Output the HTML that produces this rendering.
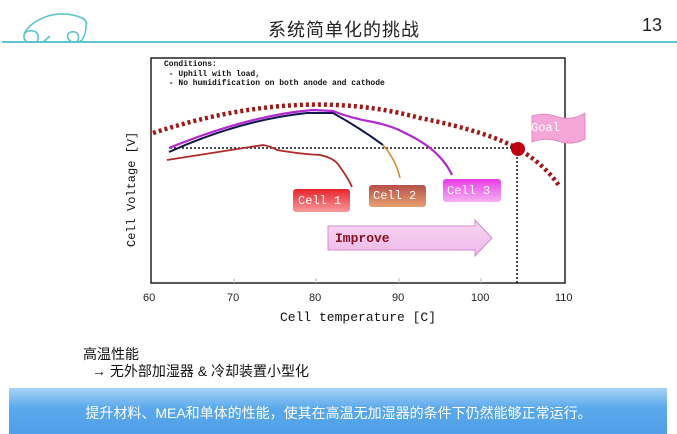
<!DOCTYPE html>
<html><head><meta charset="utf-8"><style>
body{margin:0;width:677px;height:434px;background:#fff;overflow:hidden;position:relative;font-family:"Liberation Sans","Noto Sans CJK SC",sans-serif}
.t{position:absolute;white-space:nowrap}
</style></head><body>
<svg width="677" height="434" style="position:absolute;left:0;top:0">
<defs>
<linearGradient id="bl" x1="0" y1="0" x2="0" y2="1"><stop offset="0" stop-color="#a9d3f5"/><stop offset="0.4" stop-color="#5aa8ec"/><stop offset="1" stop-color="#4f9ee6"/></linearGradient>
<linearGradient id="c1" x1="0" y1="0" x2="0" y2="1"><stop offset="0" stop-color="#e8242a"/><stop offset="1" stop-color="#f79a9a"/></linearGradient>
<linearGradient id="c2" x1="0" y1="0" x2="0" y2="1"><stop offset="0" stop-color="#b5504a"/><stop offset="1" stop-color="#e8a070"/></linearGradient>
<linearGradient id="c3" x1="0" y1="0" x2="0" y2="1"><stop offset="0" stop-color="#e83ce8"/><stop offset="1" stop-color="#f5b0f2"/></linearGradient>
<linearGradient id="im" x1="0" y1="0" x2="0" y2="1"><stop offset="0" stop-color="#f7d6f2"/><stop offset="1" stop-color="#f0b8ea"/></linearGradient>
</defs>
<!-- header -->
<path d="M2 42 H677" stroke="#5cc6cf" stroke-width="2"/>
<path d="M27 42 Q22 38 25 33 Q30 29 36 32 Q40 36 37 42 M27 42 H43 M43 42 Q48 38 50 36 M24 34 Q30 22 48 16 Q66 11 82 18 Q88 21 86 26 Q86 34 82 40 Q78 43 72 42 Q66 39 68 34 Q72 30 77 33 Q80 37 77 42" fill="none" stroke="#5cc6cf" stroke-width="1.6"/>
<!-- plot box -->
<rect x="151" y="58" width="414" height="225" fill="#fff" stroke="#222" stroke-width="1.5"/>
<g stroke="#bbb" stroke-width="1"><path d="M234 283v-5M316 283v-5M399 283v-5M481 283v-5"/></g>
<!-- goal dotted -->
<path d="M153 133 Q300 85 420 118 Q490 132 520 150 Q545 165 560 187" fill="none" stroke="#a01818" stroke-width="4.5" stroke-dasharray="3,3"/>
<path d="M170 148 H517 V283" fill="none" stroke="#111" stroke-width="1.5" stroke-dasharray="2,2"/>
<!-- curves -->
<path d="M169 152 Q240 120 307 113 L333 113 Q360 128 383 145" fill="none" stroke="#141650" stroke-width="2"/>
<path d="M383 145 Q396 160 400 178" fill="none" stroke="#d68a3a" stroke-width="1.6"/>
<path d="M169 148 Q250 115 313 110 L333 111 Q350 118 373 122 Q392 126 403 132 Q420 140 430 148 Q445 160 452 175" fill="none" stroke="#b22ad0" stroke-width="2.2"/>
<path d="M167 160 Q230 150 263 145 Q270 146 277 150 Q300 154 320 155 Q335 158 340 167 Q348 178 352 187" fill="none" stroke="#b02828" stroke-width="1.8"/>
<circle cx="518" cy="149" r="7" fill="#c00010"/>
<!-- goal flag -->
<path d="M532 116 Q545 112 558 117 Q572 121 585 113 V139 Q572 146 558 141 Q545 137 532 142Z" fill="#f4a6d8" stroke="#e088c4"/>
<!-- labels -->
<rect x="293" y="189" width="57" height="23" rx="3" fill="url(#c1)"/>
<rect x="369" y="185" width="57" height="22" rx="3" fill="url(#c2)"/>
<rect x="443" y="179" width="58" height="23" rx="3" fill="url(#c3)"/>
<path d="M328 226 H475 V220 L492 238 L475 256 V250 H328Z" fill="url(#im)" stroke="#d58ccd"/>
<!-- banner -->
<rect x="9" y="388" width="658" height="50" fill="url(#bl)"/>
</svg>
<div class="t" style="left:268px;top:16px;font-size:18px;color:#222;letter-spacing:1px">系统简单化的挑战</div>
<div class="t" style="left:642px;top:15px;font-size:18px;color:#222">13</div>
<div class="t" style="left:164px;top:60px;font-family:'Liberation Mono',monospace;font-size:8px;line-height:9.5px;color:#111;font-weight:bold">Conditions:<br>&nbsp;- Uphill with load,<br>&nbsp;- No humidification on both anode and cathode</div>
<div class="t" style="left:531px;top:121px;font-family:'Liberation Mono',monospace;font-size:12px;color:#fff">Goal</div>
<div class="t" style="left:298px;top:194px;font-family:'Liberation Mono',monospace;font-size:12px;color:#fff">Cell 1</div>
<div class="t" style="left:373px;top:189px;font-family:'Liberation Mono',monospace;font-size:12px;color:#fff">Cell 2</div>
<div class="t" style="left:447px;top:184px;font-family:'Liberation Mono',monospace;font-size:12px;color:#fff">Cell 3</div>
<div class="t" style="left:335px;top:231px;font-family:'Liberation Mono',monospace;font-size:13px;color:#8a1020;font-weight:bold">Improve</div>
<div class="t" style="left:82px;top:190px;width:100px;text-align:center;transform:rotate(-90deg);font-family:'Liberation Mono',monospace;font-size:12px;color:#111">Cell Voltage [V]</div>
<div class="t" style="left:143px;top:292px;font-size:11px;color:#222">60</div>
<div class="t" style="left:227px;top:292px;font-size:11px;color:#222">70</div>
<div class="t" style="left:309px;top:292px;font-size:11px;color:#222">80</div>
<div class="t" style="left:392px;top:292px;font-size:11px;color:#222">90</div>
<div class="t" style="left:471px;top:292px;font-size:11px;color:#222">100</div>
<div class="t" style="left:555px;top:292px;font-size:11px;color:#222">110</div>
<div class="t" style="left:280px;top:310px;font-family:'Liberation Mono',monospace;font-size:13px;color:#111">Cell temperature [C]</div>
<div class="t" style="left:83px;top:344px;font-size:14px;color:#111">高温性能</div>
<div class="t" style="left:92px;top:361px;font-size:14px;color:#111"><b>→</b> 无外部加湿器 &amp; 冷却装置小型化</div>
<div class="t" style="left:0;width:677px;text-align:center;top:403px;font-size:14px;color:#fff">提升材料、MEA和单体的性能，使其在高温无加湿器的条件下仍然能够正常运行。</div>
</body></html>
